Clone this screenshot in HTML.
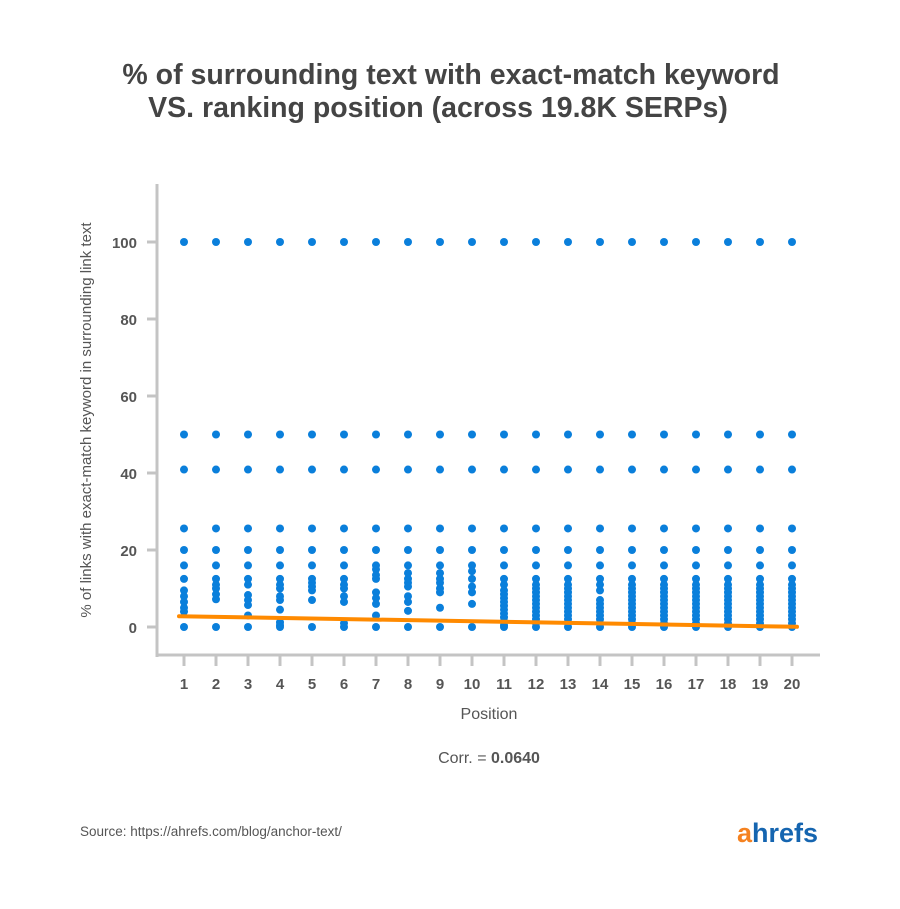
<!DOCTYPE html>
<html><head><meta charset="utf-8"><style>
body{margin:0;background:#fff;width:900px;height:904px;overflow:hidden;font-family:"Liberation Sans",sans-serif;}
</style></head><body>
<svg id="chart" width="900" height="904" viewBox="0 0 900 904">
<text x="451" y="84" text-anchor="middle" font-size="28.5" font-weight="bold" fill="#444">% of surrounding text with exact-match keyword</text>
<text x="438" y="117" text-anchor="middle" font-size="28.5" font-weight="bold" fill="#444">VS. ranking position (across 19.8K SERPs)</text>
<g id="axes"></g>
<g id="dots"></g>
<g id="trend"></g>
<text x="91" y="420" transform="rotate(-90 91 420)" text-anchor="middle" font-size="15" fill="#555">% of links with exact-match keyword in surrounding link text</text>
<text x="489" y="719" text-anchor="middle" font-size="16" fill="#555">Position</text>
<text x="489" y="763" text-anchor="middle" font-size="16" fill="#555">Corr. =  <tspan font-weight="bold">0.0640</tspan></text>
<text x="80" y="836" font-size="13.5" fill="#555">Source:   https://ahrefs.com/blog/anchor-text/</text>
<text x="737" y="842" font-size="27" font-weight="bold" fill="#1565b0"><tspan fill="#f58220">a</tspan>hrefs</text>
</svg>
<script>
const positions=[1,2,3,4,5,6,7,8,9,10,11,12,13,14,15,16,17,18,19,20];
const yTicks=[0,20,40,60,80,100];
const common=[100,50,40.9,25.6,20,16];
const lowValues=[
[12.5,9.5,8,6.5,5,4,0],
[12.5,11,10,8.5,7.2,0],
[12.5,11,8.3,7,5.7,3,0],
[12.5,11,10,8,7,4.5,1.2,0.5,0],
[12.5,11.5,10.5,9.5,7,0],
[12.5,11,10,8,6.5,1,0],
[15,13.5,12.5,9,7.5,6,3,0],
[14,12.5,11.5,10.5,8,6.5,4.2,0],
[14,12.5,11.5,10,9,5,0],
[14.5,12.5,10.5,9,6,0],
[12.5,11,9.5,8.5,7.5,6.5,5.5,4.5,3.5,2.5,1.5,0.5,0],
[12.5,11,10,9,8,7,6,5,4,3,2,1,0],
[12.5,11,10,9,8,7,6,5,4,3,2,1,0],
[12.5,11,9.5,7,6,5,4,3,2,1,0],
[12.5,11,10,9,8,7,6,5,4,3,2,1,0],
[12.5,11,10,9,8,7,6,5,4,3,2,1,0],
[12.5,11,10,9,8,7,6,5,4,3,2,1,0],
[12.5,11,10,9,8,7,6,5,4,3,2,1,0],
[12.5,11,10,9,8,7,6,5,4,3,2,1,0],
[12.5,11,10,9,8,7,6,5,4,3,2,1,0]];
const trendStart=[2.8];
const trendEnd=[0.05];
const NS="http://www.w3.org/2000/svg";
function xs(p){return 184+(p-1)*32;}
function ys(v){return 627-v*3.85;}
function mk(tag,attrs,parent){const e=document.createElementNS(NS,tag);for(const k in attrs)e.setAttribute(k,attrs[k]);parent.appendChild(e);return e;}
const axes=document.getElementById('axes');
let a=mk('line',{x1:157,y1:184,x2:157,y2:657,stroke:'#c4c4c4','stroke-width':3},axes);


a=mk('line',{x1:155.5,y1:655,x2:820,y2:655,stroke:'#c4c4c4','stroke-width':3},axes);


yTicks.forEach(t=>{
 const l=mk('line',{x1:147,y1:ys(t),x2:157,y2:ys(t),stroke:'#c4c4c4','stroke-width':3},axes);
 
 
 const tx=mk('text',{x:137,y:ys(t)+6,'text-anchor':'end','font-size':15,'font-weight':'bold',fill:'#555'},axes);
 tx.textContent=t;
 
 
});
positions.forEach(p=>{
 const l=mk('line',{x1:xs(p),y1:655,x2:xs(p),y2:666,stroke:'#c4c4c4','stroke-width':3},axes);
 
 
 const tx=mk('text',{x:xs(p),y:689,'text-anchor':'middle','font-size':15,'font-weight':'bold',fill:'#555'},axes);
 tx.textContent=p;
 
 
});
const dots=document.getElementById('dots');
positions.forEach((p,i)=>{
 common.concat(lowValues[i]).forEach(v=>{
  const c=mk('circle',{cx:xs(p),cy:ys(v),r:4,fill:'#0a7fdb'},dots);
  
  
 });
});
const trend=document.getElementById('trend');
const tl=mk('line',{x1:xs(positions[0])-5,y1:ys(trendStart[0]),x2:xs(positions[positions.length-1])+5,y2:ys(trendEnd[0]),stroke:'#ff8a00','stroke-width':4,'stroke-linecap':'round'},trend);


</script>
</body></html>
